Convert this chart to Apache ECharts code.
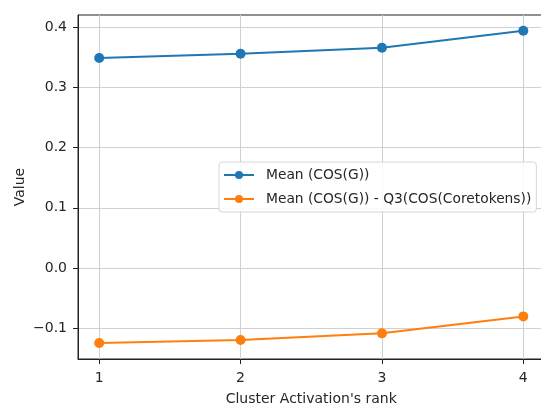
<!DOCTYPE html>
<html><head><meta charset="utf-8">
<script src="https://cdn.jsdelivr.net/npm/echarts@6/dist/echarts.min.js"></script>
<style>html,body{margin:0;padding:0;background:#fff}#c{width:541px;height:416px}</style>
</head><body><div id="c"></div>
<script>
var ranks = [1, 2, 3, 4];
var meanCos = [0.349, 0.356, 0.366, 0.394];
var meanMinusQ3 = [-0.1246, -0.1196, -0.1086, -0.0804];
var xTicks = [1, 2, 3, 4];
var yTicks = [-0.1, 0.0, 0.1, 0.2, 0.3, 0.4];
var seriesNames = ['Mean (COS(G))', 'Mean (COS(G)) - Q3(COS(Coretokens))'];

var font = 'DejaVu Sans';
var chart = echarts.init(document.getElementById('c'), null, {renderer: 'canvas'});
function pairs(ys) { return ranks.map(function (r, i) { return [r, ys[i]]; }); }
chart.setOption({
  animation: false,
  backgroundColor: '#fff',
  grid: {left: 78, width: 466.5, top: 15, height: 344, show: true, borderColor: '#222', borderWidth: 1,
         containLabel: false, outerBoundsMode: 'none'},
  xAxis: {
    type: 'value', min: 0.85, max: 4.15,
    name: "Cluster Activation's rank", nameLocation: 'middle', nameGap: 33, nameMoveOverlap: false,
    nameTextStyle: {fontFamily: font, fontSize: 14, color: '#262626'},
    axisLine: {show: true, onZero: false, lineStyle: {color: '#222'}},
    axisTick: {show: true, customValues: xTicks, length: 5, lineStyle: {color: '#222'}},
    axisLabel: {customValues: xTicks, fontFamily: font, fontSize: 14, color: '#262626', margin: 12,
      formatter: function (v) { return String(v); }},
    splitLine: {show: true, customValues: xTicks, lineStyle: {color: '#d0d0d0', width: 1}}
  },
  yAxis: {
    type: 'value', min: -0.1512, max: 0.4203,
    name: 'Value', nameLocation: 'middle', nameGap: 51, nameRotate: 90, nameMoveOverlap: false,
    nameTextStyle: {fontFamily: font, fontSize: 14, color: '#262626'},
    axisLine: {show: true, onZero: false, lineStyle: {color: '#222'}},
    axisTick: {show: true, customValues: yTicks, length: 5, lineStyle: {color: '#222'}},
    axisLabel: {customValues: yTicks, fontFamily: font, fontSize: 14, color: '#262626', margin: 11,
      formatter: function (v) { return (v < 0 ? '\u2212' : '') + Math.abs(v).toFixed(1); }},
    splitLine: {show: true, customValues: yTicks, lineStyle: {color: '#d0d0d0', width: 1}}
  },
  legend: {
    show: true, orient: 'vertical', left: 219, top: 162,
    data: seriesNames,
    itemWidth: 30, itemHeight: 10, itemGap: 10,
    padding: [6, 5, 6, 4],
    backgroundColor: 'rgba(255,255,255,0.85)', borderColor: '#d6d6d6', borderWidth: 1, borderRadius: 3,
    textStyle: {fontFamily: font, fontSize: 13.8, color: '#262626', padding: [0, 0, 0, 7]}
  },
  series: [
    {name: seriesNames[0], type: 'line', data: pairs(meanCos), color: '#1f77b4',
     symbol: 'circle', symbolSize: 10, lineStyle: {width: 2}},
    {name: seriesNames[1], type: 'line', data: pairs(meanMinusQ3), color: '#ff7f0e',
     symbol: 'circle', symbolSize: 10, lineStyle: {width: 2}}
  ]
});
</script></body></html>
